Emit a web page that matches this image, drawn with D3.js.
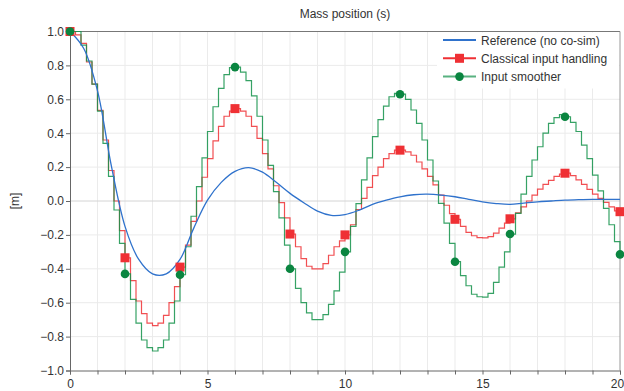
<!DOCTYPE html>
<html>
<head>
<meta charset="utf-8">
<script src="https://cdn.jsdelivr.net/npm/d3@7"></script>
<style>
  body { margin: 0; background: #fff; }
  svg text { font-family: "Liberation Sans", Arial, sans-serif; fill: #333; }
</style>
</head>
<body>
<svg id="chart" width="624" height="391"></svg>
<script>
// sample step of the co-simulation (s)
const stepSize = 0.2;

// reference solution, read every 0.5 s
const refTimes = [0, 0.5, 1, 1.5, 2, 2.5, 3, 3.5, 4, 4.5, 5, 5.5, 6, 6.5, 7, 7.5, 8, 8.5, 9, 9.5,
  10, 10.5, 11, 11.5, 12, 12.5, 13, 13.5, 14, 14.5, 15, 15.5, 16, 16.5, 17, 17.5, 18, 18.5, 19, 19.5, 20];
const refValues = [1.0, 0.9, 0.65, 0.21, -0.15, -0.345, -0.43, -0.43, -0.345, -0.16, 0.005, 0.11, 0.175, 0.197, 0.17, 0.11, 0.045, -0.01, -0.06, -0.085,
  -0.08, -0.055, -0.02, 0.005, 0.025, 0.037, 0.04, 0.035, 0.025, 0.01, -0.005, -0.015, -0.02, -0.012, -0.005, 0.0, 0.005, 0.008, 0.01, 0.01, 0.01];

// classical input handling, one value per 0.2 s step (101 values, last one at t = 20)
const classicalValues = [
  1.0, 0.98, 0.93, 0.82, 0.69, 0.535, 0.36, 0.18, 0.0, -0.175,
  -0.335, -0.47, -0.59, -0.665, -0.72, -0.735, -0.72, -0.675, -0.6, -0.505,
  -0.39, -0.26, -0.12, 0.0, 0.14, 0.25, 0.355, 0.44, 0.5, 0.53,
  0.545, 0.53, 0.5, 0.44, 0.37, 0.28, 0.19, 0.09, -0.01, -0.1,
  -0.195, -0.27, -0.34, -0.385, -0.4, -0.4, -0.37, -0.32, -0.27, -0.235,
  -0.2, -0.14, -0.05, 0.015, 0.08, 0.15, 0.2, 0.25, 0.28, 0.3,
  0.3, 0.29, 0.27, 0.23, 0.19, 0.145, 0.095, 0.035, -0.025, -0.075,
  -0.108, -0.15, -0.185, -0.205, -0.216, -0.218, -0.21, -0.19, -0.16, -0.13,
  -0.105, -0.07, -0.035, 0.0, 0.035, 0.07, 0.098, 0.122, 0.145, 0.158,
  0.164, 0.15, 0.125, 0.098, 0.068, 0.04, 0.015, -0.008, -0.035, -0.058,
  -0.063];

// input smoother, one value per 0.2 s step
const smootherValues = [
  1.0, 1.0, 0.92, 0.826, 0.69, 0.53, 0.34, 0.145, -0.053, -0.25,
  -0.43, -0.58, -0.72, -0.82, -0.865, -0.885, -0.865, -0.82, -0.72, -0.59,
  -0.435, -0.27, -0.09, 0.085, 0.255, 0.41, 0.556, 0.665, 0.745, 0.787,
  0.79, 0.76, 0.71, 0.62, 0.5, 0.36, 0.21, 0.055, -0.1, -0.26,
  -0.4, -0.515, -0.6, -0.66, -0.7, -0.7, -0.67, -0.61, -0.53, -0.42,
  -0.3, -0.15, -0.015, 0.125, 0.255, 0.38, 0.48, 0.56, 0.615, 0.635,
  0.63, 0.6, 0.537, 0.458, 0.36, 0.242, 0.118, -0.014, -0.13, -0.25,
  -0.358, -0.44, -0.5, -0.55, -0.565, -0.567, -0.545, -0.48, -0.39, -0.3,
  -0.195, -0.073, 0.04, 0.145, 0.242, 0.32, 0.4, 0.458, 0.492, 0.51,
  0.497, 0.464, 0.41, 0.33, 0.25, 0.153, 0.06, -0.043, -0.14, -0.24,
  -0.315];

const xTickLabels = [0, 5, 10, 15, 20];
const yTickLabels = [-1.0, -0.8, -0.6, -0.4, -0.2, 0.0, 0.2, 0.4, 0.6, 0.8, 1.0];
const legendLabels = ["Reference (no co-sim)", "Classical input handling", "Input smoother"];
const chartTitle = "Mass position (s)";
const yTitle = "[m]";

let svg = d3.select("#chart");

let plotLeft = 70, plotRight = 620, plotTop = 31.5, plotBottom = 370.5;

let x = d3.scaleLinear().domain([0, 20]).range([plotLeft, plotRight]);
let y = d3.scaleLinear().domain([-1, 1]).range([plotBottom, plotTop]);

let colors = { ref: "#2f72cc", classical: "#ef3034", smoother: "#13924a" };

// grid
let grid = svg.append("g");
grid.selectAll("line.v")
  .data(d3.range(1, 20))
  .enter().append("line")
  .attr("x1", d => x(d)).attr("x2", d => x(d))
  .attr("y1", plotTop).attr("y2", plotBottom)
  .attr("stroke", "#ebebeb").attr("stroke-width", 1);
grid.selectAll("line.h")
  .data(yTickLabels.slice(1, -1))
  .enter().append("line")
  .attr("x1", plotLeft).attr("x2", plotRight)
  .attr("y1", d => y(d)).attr("y2", d => y(d))
  .attr("stroke", d => d === 0 ? "#d4d4d4" : "#ebebeb").attr("stroke-width", 1);

// frame top / right
svg.append("line").attr("x1", plotLeft).attr("x2", plotRight).attr("y1", plotTop).attr("y2", plotTop)
  .attr("stroke", "#777");
svg.append("line").attr("x1", plotRight).attr("x2", plotRight).attr("y1", plotTop).attr("y2", plotBottom)
  .attr("stroke", "#999");

// axes
let xAxis = d3.axisBottom(x)
  .tickValues(d3.range(0, 21))
  .tickSize(4)
  .tickFormat(d => xTickLabels.includes(d) ? d : "");
let gx = svg.append("g")
  .attr("transform", "translate(0," + plotBottom + ")")
  .call(xAxis);
gx.select(".domain").attr("stroke", "#666");
gx.selectAll(".tick line").attr("stroke", "#666");
gx.selectAll("text").attr("font-size", "12px").attr("dy", "0.9em").attr("fill", "#333")
  .attr("dx", d => d === 20 ? -3 : 0);

let yAxis = d3.axisLeft(y)
  .tickValues(yTickLabels)
  .tickSize(4)
  .tickFormat(d3.format(".1f"));
let gy = svg.append("g")
  .attr("transform", "translate(" + plotLeft + ",0)")
  .call(yAxis);
gy.select(".domain").attr("stroke", "#666");
gy.selectAll(".tick line").attr("stroke", "#666");
gy.selectAll("text").attr("font-size", "12px").attr("x", -6).attr("fill", "#333");

// titles
svg.append("text")
  .attr("x", (plotLeft + plotRight) / 2).attr("y", 18)
  .attr("text-anchor", "middle").attr("font-size", "12px")
  .text(chartTitle);
svg.append("text")
  .attr("transform", "translate(19," + y(0) + ") rotate(-90)")
  .attr("text-anchor", "middle").attr("font-size", "12px")
  .text(yTitle);

// series
let stepData = function(values){
  return values.map((v, i) => ({ t: i * stepSize, v: v }));
};
let classical = stepData(classicalValues);
let smoother = stepData(smootherValues);
let reference = refTimes.map((t, i) => ({ t: t, v: refValues[i] }));

let stepLine = d3.line()
  .x(d => x(d.t)).y(d => y(d.v))
  .curve(d3.curveStepAfter);

svg.append("path").datum(classical)
  .attr("d", stepLine)
  .attr("fill", "none").attr("stroke", colors.classical)
  .attr("stroke-width", 1.2).attr("stroke-opacity", 0.85);

svg.append("path").datum(smoother)
  .attr("d", stepLine)
  .attr("fill", "none").attr("stroke", colors.smoother)
  .attr("stroke-width", 1.2).attr("stroke-opacity", 0.85);

svg.append("path").datum(reference)
  .attr("d", d3.line().x(d => x(d.t)).y(d => y(d.v)).curve(d3.curveCatmullRom))
  .attr("fill", "none").attr("stroke", colors.ref)
  .attr("stroke-width", 1.3);

// markers every 2 s
let every = function(arr){ return arr.filter((d, i) => i % 10 === 0); };

svg.append("g").selectAll("rect")
  .data(every(classical))
  .enter().append("rect")
  .attr("x", d => x(d.t) - 4.5).attr("y", d => y(d.v) - 4.5)
  .attr("width", 9).attr("height", 9)
  .attr("fill", colors.classical);

svg.append("g").selectAll("circle")
  .data(every(smoother))
  .enter().append("circle")
  .attr("cx", d => x(d.t)).attr("cy", d => y(d.v))
  .attr("r", 4.3)
  .attr("fill", "#0a8540");

// legend
let legend = svg.append("g");
legend.append("rect")
  .attr("x", 437).attr("y", plotTop + 1).attr("width", plotRight - 437 - 1).attr("height", 56)
  .attr("fill", "#fff");

let rows = legend.selectAll("g.row")
  .data(legendLabels)
  .enter().append("g")
  .attr("transform", (d, i) => "translate(0," + (40 + i * 18.3) + ")");

let legendColors = [colors.ref, colors.classical, colors.smoother];
rows.append("line")
  .attr("x1", 443).attr("x2", 476).attr("y1", 0).attr("y2", 0)
  .attr("stroke", (d, i) => legendColors[i]).attr("stroke-width", 2)
  .attr("stroke-opacity", (d, i) => i === 2 ? 0.7 : 1);
rows.filter((d, i) => i === 1).append("rect")
  .attr("x", 455).attr("y", -4.5).attr("width", 9).attr("height", 9)
  .attr("fill", colors.classical);
rows.filter((d, i) => i === 2).append("circle")
  .attr("cx", 459.5).attr("cy", 0).attr("r", 4.3)
  .attr("fill", "#0a8540");
rows.append("text")
  .attr("x", 481).attr("y", 4.5)
  .attr("font-size", "12px")
  .text(d => d);
</script>
</body>
</html>
